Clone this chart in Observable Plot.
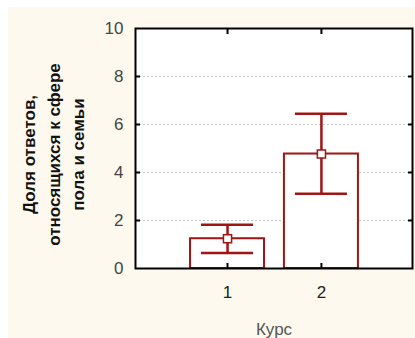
<!DOCTYPE html>
<html>
<head>
<meta charset="utf-8">
<script src="https://cdn.jsdelivr.net/npm/d3@7"></script>
<script src="https://cdn.jsdelivr.net/npm/@observablehq/plot@0.6"></script>
<style>
  html, body { margin: 0; padding: 0; background: #ffffff; width: 415px; height: 338px; overflow: hidden; }
  #bg { position: absolute; left: 8px; top: 7px; right: 0; bottom: 0; background: #fdf9ee; }
  #chart { position: absolute; left: 0; top: 0; }
  #chart g[aria-label="ylabel"] text { letter-spacing: 1px; }
  #chart g[aria-label="xlabel"] text { letter-spacing: 1.5px; }
</style>
</head>
<body>
<div id="bg"></div>
<div id="chart"></div>
<script>
const courses = [1, 2];
const means = [1.24, 4.77];
const lows = [0.65, 3.11];
const highs = [1.82, 6.45];
const yTicks = [0, 2, 4, 6, 8, 10];
const gridTicks = [2, 4, 6, 8];
const xTicks = [1, 2];
const yLabel = "Доля ответов,\nотносящихся к сфере\nпола и семьи";
const xLabel = "Курс";

const data = courses.map((c, i) => ({course: c, mean: means[i], low: lows[i], high: highs[i]}));
const red = "#a01414";
const barHalf = 0.394;
const capHalf = 0.277;

const plot = Plot.plot({
  width: 415,
  height: 338,
  marginLeft: 135,
  marginRight: 3,
  marginTop: 28,
  marginBottom: 70,
  style: {background: "transparent", fontFamily: "'Liberation Sans', Arial, sans-serif"},
  x: {domain: [0.02, 2.97], axis: null},
  y: {domain: [0, 10], axis: null},
  marks: [
    Plot.frame({fill: "white"}),
    Plot.ruleY(gridTicks, {stroke: "#c4c4c4", strokeWidth: 1, strokeDasharray: "2,2"}),
    Plot.rectY(data, {x1: d => d.course - barHalf, x2: d => d.course + barHalf, y1: 0, y2: "mean", fill: "white", stroke: red, strokeWidth: 2}),
    Plot.ruleX(data, {x: "course", y1: "low", y2: "high", stroke: red, strokeWidth: 2.5}),
    Plot.ruleY(data, {y: "low", x1: d => d.course - capHalf, x2: d => d.course + capHalf, stroke: red, strokeWidth: 2.5}),
    Plot.ruleY(data, {y: "high", x1: d => d.course - capHalf, x2: d => d.course + capHalf, stroke: red, strokeWidth: 2.5}),
    Plot.dot(data, {x: "course", y: "mean", symbol: "square", r: 4.6, fill: "white", stroke: red, strokeWidth: 1.5}),
    Plot.frame({stroke: "black", strokeWidth: 2}),
    Plot.axisY({ticks: gridTicks, anchor: "left", tickSize: -5, tickFormat: () => "", stroke: "black", strokeWidth: 2, label: null}),
    Plot.axisY({ticks: gridTicks, anchor: "right", tickSize: -5, tickFormat: () => "", stroke: "black", strokeWidth: 2, label: null}),
    Plot.axisX({ticks: xTicks, anchor: "bottom", tickSize: -5, tickFormat: () => "", stroke: "black", strokeWidth: 2, label: null}),
    Plot.axisX({ticks: xTicks, anchor: "top", tickSize: -5, tickFormat: () => "", stroke: "black", strokeWidth: 2, label: null}),
    Plot.axisY({ticks: yTicks, anchor: "left", tickSize: 0, tickPadding: 12, tickFormat: "d", fontSize: 17, fill: "#444", label: null}),
    Plot.axisX({ticks: xTicks, anchor: "bottom", tickSize: 0, tickPadding: 17, tickFormat: "d", fontSize: 17, fill: "#222", label: null}),
    Plot.text([xLabel], {ariaLabel: "xlabel", frameAnchor: "bottom", dy: 66, fontSize: 17, fill: "#555", lineAnchor: "bottom", text: d => d}),
    Plot.text([yLabel], {ariaLabel: "ylabel", frameAnchor: "left", dx: -84, dy: 6, rotate: -90, textAnchor: "middle", fontSize: 17, fontWeight: "bold", fill: "#111", lineHeight: 1.47, text: d => d})
  ]
});
document.getElementById("chart").appendChild(plot);
</script>
</body>
</html>
